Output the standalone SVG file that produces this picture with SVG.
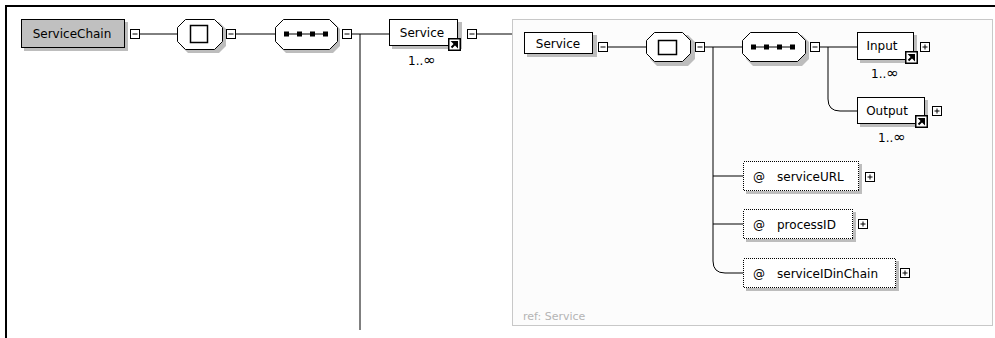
<svg xmlns="http://www.w3.org/2000/svg" width="995" height="338" viewBox="0 0 995 338">
<style>
text{font-family:"DejaVu Sans","Liberation Sans",sans-serif;font-size:12px;fill:#000}
.lbl{text-anchor:middle}
.card{font-size:12px;fill:#000}
.inf{font-size:15px}
.box{fill:#fff;stroke:#000;stroke-width:1}
.sh{fill:#bdbdbd}
.attr{fill:#fff;stroke:#000;stroke-width:1;stroke-dasharray:1 1;shape-rendering:crispEdges}
.tog{fill:#fff;stroke:#000;stroke-width:1}
.con{fill:none;stroke:#000;stroke-width:1}
.oct{fill:#fff;stroke:#000;stroke-width:1}
</style>
<defs>
<g id="minus"><rect class="tog" x="0.5" y="0.5" width="9" height="9"/><path d="M2.5 5H7.5" stroke="#000"/></g>
<g id="plus"><rect class="tog" x="0.5" y="0.5" width="9" height="9"/><path d="M2.5 5H7.5M5 2.5V7.5" stroke="#000"/></g>
<g id="refarrow"><rect x="0" y="0" width="13" height="13" fill="#000"/><rect x="1.5" y="1.5" width="10" height="10" fill="#fff"/><path d="M3.5 9.5L8.5 4.5M5 4H9V8Z" stroke="#000" stroke-width="2" fill="#000"/></g>
<g id="seqdots"><path d="M0 0H40" stroke="#000" stroke-width="1"/><rect x="-2" y="-2.5" width="5" height="5" fill="#000"/><rect x="11" y="-2.5" width="5" height="5" fill="#000"/><rect x="24" y="-2.5" width="5" height="5" fill="#000"/><rect x="37" y="-2.5" width="5" height="5" fill="#000"/></g>
</defs>
<rect width="995" height="338" fill="#fff"/>
<path d="M6 338V6H995" fill="none" stroke="#000" stroke-width="2"/>
<g id="refService">
<rect x="512.5" y="19.5" width="480" height="306" fill="#fcfcfc" stroke="#c8c8c8"/>
<text x="523" y="320" style="fill:#b4b4b4;font-size:11px">ref: Service</text>
</g>
<g id="connectors">
<path class="con" d="M140 34H178"/>
<path class="con" d="M236 34H275"/>
<path class="con" d="M352 34H389M360 34V330"/>
<path class="con" d="M477 34H512"/>
<path class="con" d="M608 47H646"/>
<path class="con" d="M705 47H742"/>
<path class="con" d="M820 47H857M828 47V99Q828 111 840 111H857"/>
<path class="con" d="M713 47V261Q713 273 725 273H743M713 176H743M713 224H743"/>
</g>
<g id="ServiceChain">
<rect class="sh" x="24" y="22" width="104" height="29"/>
<rect x="21.5" y="19.5" width="103" height="28" fill="#c0c0c0" stroke="#000"/>
<text class="lbl" x="72" y="38">ServiceChain</text>
<use href="#minus" x="130" y="29"/>
</g>
<g id="compositor1">
<path class="sh" d="M188 22H219L226 29V46L219 53H188L181 46V29Z"/>
<path class="oct" d="M185.5 19.5H214.5L222.5 27.5V41.5L214.5 49.5H185.5L177.5 41.5V27.5Z"/>
<rect x="190.5" y="25.5" width="17" height="17" fill="#fff" stroke="#000" stroke-width="1.5"/>
<use href="#minus" x="226" y="29"/>
</g>
<g id="sequence1">
<path class="sh" d="M286 22H333L340 29V46L333 53H286L279 46V29Z"/>
<path class="oct" d="M283.5 19.5H329.5L337.5 27.5V41.5L329.5 49.5H283.5L275.5 41.5V27.5Z"/>
<use href="#seqdots" x="286" y="34"/>
<use href="#minus" x="342" y="29"/>
</g>
<g id="Service">
<rect class="sh" x="392" y="22" width="70" height="27"/>
<rect class="box" x="389.5" y="19.5" width="68" height="26"/>
<text class="lbl" x="422" y="37">Service</text>
<use href="#refarrow" x="448" y="38"/>
<text class="card" x="408" y="65">1..<tspan class="inf">∞</tspan></text>
<use href="#minus" x="467" y="29"/>
</g>
<g id="ServiceRef">
<rect class="sh" x="527" y="35" width="70" height="22"/>
<rect class="box" x="524.5" y="32.5" width="68" height="21"/>
<text class="lbl" x="558" y="48">Service</text>
<use href="#minus" x="598" y="42"/>
</g>
<g id="compositor2">
<path class="sh" d="M657 35H688L695 42V59L688 66H657L650 59V42Z"/>
<path class="oct" d="M654.5 32.5H682.5L690.5 40.5V53.5L682.5 61.5H654.5L646.5 53.5V40.5Z"/>
<rect x="658.5" y="40.5" width="18" height="14" fill="#fff" stroke="#000" stroke-width="1.5"/>
<use href="#minus" x="695" y="42"/>
</g>
<g id="sequence2">
<path class="sh" d="M753 35H802L809 42V59L802 66H753L746 59V42Z"/>
<path class="oct" d="M750.5 32.5H797.5L805.5 40.5V53.5L797.5 61.5H750.5L742.5 53.5V40.5Z"/>
<use href="#seqdots" x="753" y="47"/>
<use href="#minus" x="810" y="42"/>
</g>
<g id="Input">
<rect class="sh" x="860" y="35" width="57" height="28"/>
<rect class="box" x="857.5" y="32.5" width="56" height="27"/>
<text class="lbl" x="882" y="50">Input</text>
<use href="#refarrow" x="905" y="51"/>
<use href="#plus" x="920" y="42"/>
<text class="card" x="871" y="78">1..<tspan class="inf">∞</tspan></text>
</g>
<g id="Output">
<rect class="sh" x="860" y="100" width="68" height="27"/>
<rect class="box" x="857.5" y="97.5" width="67" height="26"/>
<text class="lbl" x="887" y="115">Output</text>
<use href="#refarrow" x="915" y="115"/>
<use href="#plus" x="932" y="106"/>
<text class="card" x="878" y="142">1..<tspan class="inf">∞</tspan></text>
</g>
<g id="serviceURL">
<rect class="sh" x="746" y="164" width="116" height="30"/>
<rect class="attr" x="743.5" y="161.5" width="115" height="29"/>
<text x="753" y="181">@</text>
<text x="777" y="181">serviceURL</text>
<use href="#plus" x="865" y="172"/>
</g>
<g id="processID">
<rect class="sh" x="746" y="212" width="110" height="30"/>
<rect class="attr" x="743.5" y="209.5" width="109" height="29"/>
<text x="753" y="229">@</text>
<text x="777" y="229">processID</text>
<use href="#plus" x="858" y="219"/>
</g>
<g id="serviceIDinChain">
<rect class="sh" x="746" y="261" width="153" height="30"/>
<rect class="attr" x="743.5" y="258.5" width="152" height="29"/>
<text x="753" y="278">@</text>
<text x="777" y="278">serviceIDinChain</text>
<use href="#plus" x="900" y="268"/>
</g>
</svg>
